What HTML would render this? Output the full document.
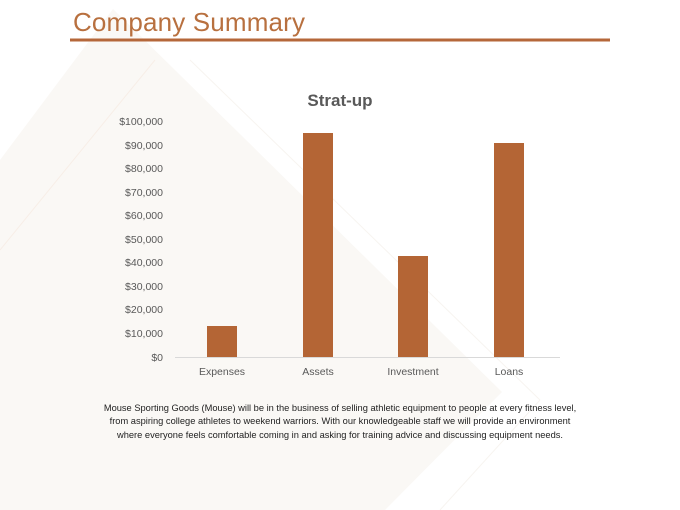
<!DOCTYPE html>
<html><head><style>
html,body{margin:0;padding:0;}
body{width:680px;height:510px;position:relative;overflow:hidden;background:#fff;font-family:"Liberation Sans",sans-serif;}
</style></head><body>
<svg width="680" height="510" style="position:absolute;left:0;top:0">
<polygon points="0,160 113,9 502,392 385,510 0,510" fill="#faf8f5"/>
<line x1="0" y1="250" x2="155" y2="60" stroke="#f7eee7" stroke-width="1"/>
<line x1="190" y1="60" x2="540" y2="400" stroke="#f7f4f0" stroke-width="1"/>
<line x1="540" y1="400" x2="440" y2="510" stroke="#f7f4f0" stroke-width="1"/>
<rect x="70" y="38.5" width="540" height="3" fill="#b5673a"/>
<text x="73" y="31" font-family="Liberation Sans, sans-serif" font-size="26" fill="#b8703f" textLength="232">Company Summary</text>
<text x="340" y="106" text-anchor="middle" font-family="Liberation Sans, sans-serif" font-size="17" font-weight="bold" fill="#595959">Strat-up</text>
<g font-family="Liberation Sans, sans-serif" font-size="10.5" fill="#595959" text-anchor="end">
<text x="163" y="125">$100,000</text>
<text x="163" y="149">$90,000</text>
<text x="163" y="172">$80,000</text>
<text x="163" y="196">$70,000</text>
<text x="163" y="219">$60,000</text>
<text x="163" y="243">$50,000</text>
<text x="163" y="266">$40,000</text>
<text x="163" y="290">$30,000</text>
<text x="163" y="313">$20,000</text>
<text x="163" y="337">$10,000</text>
<text x="163" y="361">$0</text>
</g>
<line x1="175" y1="357.5" x2="560" y2="357.5" stroke="#d9d9d9" stroke-width="1"/>
<g fill="#b46535">
<rect x="207" y="326" width="30" height="31"/>
<rect x="303" y="133" width="30" height="224"/>
<rect x="398" y="256" width="30" height="101"/>
<rect x="494" y="143" width="30" height="214"/>
</g>
<g font-family="Liberation Sans, sans-serif" font-size="10.5" fill="#595959" text-anchor="middle">
<text x="222" y="375">Expenses</text>
<text x="318" y="375">Assets</text>
<text x="413" y="375">Investment</text>
<text x="509" y="375">Loans</text>
</g>
<g font-family="Liberation Sans, sans-serif" font-size="9.3" fill="#222" text-anchor="middle">
<text x="340" y="411">Mouse Sporting Goods (Mouse) will be in the business of selling athletic equipment to people at every fitness level,</text>
<text x="340" y="424">from aspiring college athletes to weekend warriors. With our knowledgeable staff we will provide an environment</text>
<text x="340" y="438">where everyone feels comfortable coming in and asking for training advice and discussing equipment needs.</text>
</g>
</svg>
</body></html>
